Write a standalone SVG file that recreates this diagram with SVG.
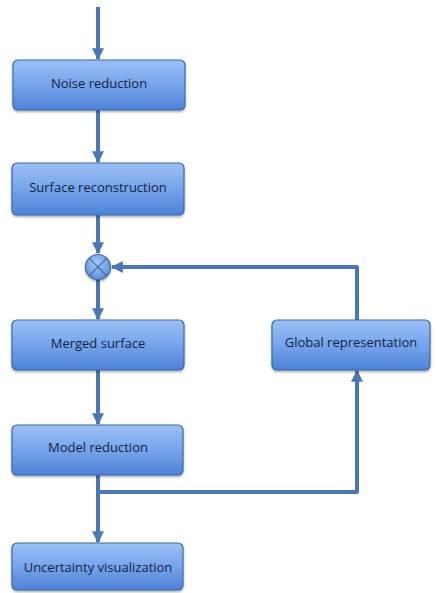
<svg xmlns="http://www.w3.org/2000/svg" width="436" height="593" viewBox="0 0 436 593">
<defs>
<linearGradient id="g" x1="0" y1="0" x2="0" y2="1">
<stop offset="0" stop-color="#9cc0f5"/>
<stop offset="0.5" stop-color="#76a4ec"/>
<stop offset="1" stop-color="#4d82d6"/>
</linearGradient>
<radialGradient id="gc" cx="0.45" cy="0.35" r="0.7">
<stop offset="0" stop-color="#a9c8f6"/>
<stop offset="1" stop-color="#5a8ad6"/>
</radialGradient>
<filter id="sh" x="-10%" y="-10%" width="120%" height="130%">
<feDropShadow dx="0" dy="1.5" stdDeviation="1.2" flood-color="#000" flood-opacity="0.35"/>
</filter>
<marker id="ah" viewBox="0 0 10 10" refX="9" refY="5" markerWidth="3" markerHeight="3" orient="auto" markerUnits="strokeWidth">
<path d="M0,0 L10,5 L0,10 z" fill="#4a78b5"/>
</marker>
</defs>
<style>
.box{fill:url(#g);stroke:#3b69a8;stroke-width:1.2;filter:url(#sh)}
.lbl{font-family:"Open Sans","Liberation Sans",sans-serif;font-size:13px;font-weight:500;fill:#14213d;text-anchor:middle;dominant-baseline:central}
.c{fill:none;stroke:#4a78b5;stroke-width:4;stroke-linejoin:round}
</style>
<rect width="436" height="593" fill="#fff"/>
<g id="connectors">
<path class="c" d="M98,7 V59" marker-end="url(#ah)"/>
<path class="c" d="M98,110 V162" marker-end="url(#ah)"/>
<path class="c" d="M98,215 V253" marker-end="url(#ah)"/>
<path class="c" d="M98,280 V319" marker-end="url(#ah)"/>
<path class="c" d="M98,370 V424" marker-end="url(#ah)"/>
<path class="c" d="M98,475 V542" marker-end="url(#ah)"/>
<path class="c" d="M98,492 H357 V371" marker-end="url(#ah)"/>
<path class="c" d="M357,320 V267 H112" marker-end="url(#ah)"/>
</g>
<g id="noise">
<rect class="box" x="13" y="60" width="172" height="50" rx="5"/>
<text class="lbl" x="99" y="83">Noise reduction</text>
</g>
<g id="surface">
<rect class="box" x="12" y="163" width="172" height="52" rx="5"/>
<text class="lbl" x="98" y="187">Surface reconstruction</text>
</g>
<g id="merge">
<circle cx="98" cy="267" r="12.5" fill="url(#gc)" stroke="#3b69a8" stroke-width="1.2" filter="url(#sh)"/>
<path d="M89.2,258.2 L106.8,275.8 M106.8,258.2 L89.2,275.8" stroke="#3b69a8" stroke-width="1.2"/>
</g>
<g id="merged">
<rect class="box" x="12" y="320" width="172" height="50" rx="5"/>
<text class="lbl" x="98" y="343">Merged surface</text>
</g>
<g id="global">
<rect class="box" x="272" y="320" width="158" height="50" rx="5"/>
<text class="lbl" x="351" y="342">Global representation</text>
</g>
<g id="model">
<rect class="box" x="12" y="425" width="171" height="50" rx="5"/>
<text class="lbl" x="98" y="447">Model reduction</text>
</g>
<g id="uncertainty">
<rect class="box" x="12" y="543" width="171" height="47" rx="5"/>
<text class="lbl" x="98" y="567">Uncertainty visualization</text>
</g>
</svg>
